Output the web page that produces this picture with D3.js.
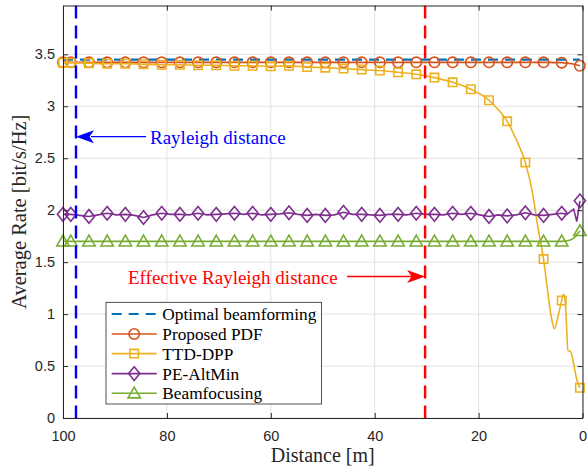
<!DOCTYPE html>
<html><head><meta charset="utf-8">
<script src="https://cdn.jsdelivr.net/npm/d3@7"></script>
<style>
html,body{margin:0;padding:0;background:#fff;}
svg{display:block;}
</style></head>
<body>
<svg id="chart" width="587" height="467"></svg>
<script>
// ---------------- data ----------------
const xTicks = [100, 80, 60, 40, 20, 0];
const yTicks = [0, 0.5, 1, 1.5, 2, 2.5, 3, 3.5];
const xTickLabels = ["100", "80", "60", "40", "20", "0"];
const yTickLabels = ["0", "0.5", "1", "1.5", "2", "2.5", "3", "3.5"];

const seriesNames = ["Optimal beamforming", "Proposed PDF", "TTD-DPP", "PE-AltMin", "Beamfocusing"];

const markerDist = [100, 98.5, 95, 91.5, 88, 84.5, 81, 77.5, 74, 70.5, 67, 63.5, 60, 56.5, 53, 49.5, 46, 42.5, 39, 35.5, 32, 28.5, 25, 21.5, 18, 14.5, 11, 7.5, 4, 0.5];

const optimalDist = [100, 98.5, 95, 91.5, 88, 84.5, 81, 77.5, 74, 70.5, 67, 63.5, 60, 56.5, 53, 49.5, 46, 42.5, 39, 35.5, 32, 28.5, 25, 21.5, 18, 14.5, 11, 7.5, 4, 0.5];
const optimalRate = [3.45, 3.45, 3.45, 3.45, 3.45, 3.45, 3.45, 3.45, 3.45, 3.45, 3.45, 3.45, 3.45, 3.45, 3.45, 3.45, 3.45, 3.45, 3.45, 3.45, 3.45, 3.45, 3.45, 3.45, 3.45, 3.45, 3.45, 3.45, 3.45, 3.45];

const pdfDist = [100, 98.5, 95, 91.5, 88, 84.5, 81, 77.5, 74, 70.5, 67, 63.5, 60, 56.5, 53, 49.5, 46, 42.5, 39, 35.5, 32, 28.5, 25, 21.5, 18, 14.5, 11, 7.5, 4, 2, 0.5];
const pdfRate = [3.423, 3.423, 3.423, 3.423, 3.423, 3.423, 3.423, 3.423, 3.423, 3.423, 3.423, 3.423, 3.423, 3.423, 3.423, 3.423, 3.423, 3.423, 3.423, 3.423, 3.423, 3.423, 3.423, 3.423, 3.423, 3.423, 3.423, 3.423, 3.42, 3.41, 3.39];

const ttdDist = [100, 98.5, 95, 91.5, 88, 84.5, 81, 77.5, 74, 70.5, 67, 63.5, 60, 56.5, 53, 49.5, 46, 42.5, 39, 35.5, 32, 28.5, 25, 21.5, 18, 16.25, 14.5, 12.75, 11, 9.6, 8.6, 7.5, 6.8, 6.0, 5.4, 4.75, 4, 3.65, 3.25, 2.8, 2.3, 1.7, 1.2, 0.5];
const ttdRate = [3.42, 3.42, 3.415, 3.41, 3.41, 3.405, 3.40, 3.40, 3.395, 3.395, 3.39, 3.39, 3.385, 3.389, 3.378, 3.372, 3.363, 3.353, 3.344, 3.327, 3.308, 3.276, 3.231, 3.164, 3.058, 2.97, 2.855, 2.68, 2.46, 2.16, 1.84, 1.53, 1.26, 0.97, 0.86, 0.97, 1.13, 1.19, 1.07, 0.65, 0.64, 0.52, 0.39, 0.29];

const peDist = [100, 98.5, 96.75, 95, 93.25, 91.5, 89.75, 88, 86.25, 84.5, 82.75, 81, 79.25, 77.5, 75.75, 74, 72.25, 70.5, 68.75, 67, 65.25, 63.5, 61.75, 60, 58.25, 56.5, 54.75, 53, 51.25, 49.5, 47.75, 46, 44.25, 42.5, 40.75, 39, 37.25, 35.5, 33.75, 32, 30.25, 28.5, 26.75, 25, 23.25, 21.5, 19.75, 18, 16.25, 14.5, 12.75, 11, 9.25, 7.5, 5.75, 4, 3, 2.2, 1.7, 1.1, 0.5];
const peRate = [1.96, 1.96, 1.95, 1.94, 1.955, 1.97, 1.955, 1.96, 1.95, 1.93, 1.955, 1.97, 1.96, 1.96, 1.955, 1.97, 1.955, 1.96, 1.965, 1.97, 1.96, 1.97, 1.955, 1.96, 1.965, 1.975, 1.96, 1.95, 1.96, 1.95, 1.955, 1.98, 1.96, 1.96, 1.955, 1.95, 1.96, 1.96, 1.955, 1.97, 1.96, 1.96, 1.955, 1.97, 1.96, 1.97, 1.955, 1.94, 1.955, 1.945, 1.955, 1.975, 1.955, 1.95, 1.96, 1.97, 1.96, 1.99, 2.01, 1.89, 2.09];

const beamDist = [100, 98.5, 95, 91.5, 88, 84.5, 81, 77.5, 74, 70.5, 67, 63.5, 60, 56.5, 53, 49.5, 46, 42.5, 39, 35.5, 32, 28.5, 25, 21.5, 18, 14.5, 11, 7.5, 4, 2.5, 1.5, 1.0, 0.5];
const beamRate = [1.70, 1.70, 1.70, 1.70, 1.70, 1.70, 1.70, 1.70, 1.70, 1.70, 1.70, 1.70, 1.70, 1.70, 1.70, 1.70, 1.70, 1.70, 1.70, 1.70, 1.70, 1.70, 1.70, 1.70, 1.70, 1.70, 1.70, 1.70, 1.70, 1.71, 1.74, 1.77, 1.80];

const rayleighDist = 97.5;
const effRayleighDist = 30.3;
const annotations = ["Rayleigh distance", "Effective Rayleigh distance"];
const xLabel = "Distance [m]";
const yLabel = "Average Rate [bit/s/Hz]";

// ---------------- drawing ----------------
const svg = d3.select("#chart");
const L = 63, R = 582.5, T = 5.5, B = 418;
const x = d3.scaleLinear().domain([100, 0]).range([L, R]);
const y = d3.scaleLinear().domain([0, 3.97]).range([B, T]);
const axisColor = "#262626";
const colors = ["#0072BD", "#D95319", "#EDB120", "#7E2F8E", "#77AC30"];

svg.append("rect").attr("x", L).attr("y", T).attr("width", R - L).attr("height", B - T).attr("fill", "#fff");

// grid
const grid = svg.append("g");
grid.selectAll(".gx").data(xTicks).enter().append("line")
  .attr("x1", d => x(d)).attr("x2", d => x(d)).attr("y1", T).attr("y2", B)
  .attr("stroke", "#e2e2e2").attr("stroke-width", 1);
grid.selectAll(".gy").data(yTicks).enter().append("line")
  .attr("x1", L).attr("x2", R).attr("y1", d => y(d)).attr("y2", d => y(d))
  .attr("stroke", "#e2e2e2").attr("stroke-width", 1);

// markers
function markerPath(type) {
  if (type === "circle") return d3.symbol(d3.symbolCircle, Math.PI * 5.2 * 5.2)();
  if (type === "square") return "M-4.2,-4.2H4.2V4.2H-4.2Z";
  if (type === "diamond") return "M0,-6.8L5.6,0L0,6.8L-5.6,0Z";
  if (type === "triangle") return "M0,-6.2L6.2,4.6L-6.2,4.6Z";
  return null;
}

const series = [
  {name: seriesNames[0], dist: optimalDist, rate: optimalRate, color: colors[0], marker: null, dash: "10,7", width: 2.2, curve: d3.curveLinear},
  {name: seriesNames[1], dist: pdfDist, rate: pdfRate, color: colors[1], marker: "circle", dash: null, width: 1.6, curve: d3.curveLinear},
  {name: seriesNames[2], dist: ttdDist, rate: ttdRate, color: colors[2], marker: "square", dash: null, width: 1.6, curve: d3.curveMonotoneX},
  {name: seriesNames[3], dist: peDist, rate: peRate, color: colors[3], marker: "diamond", dash: null, width: 1.6, curve: d3.curveLinear},
  {name: seriesNames[4], dist: beamDist, rate: beamRate, color: colors[4], marker: "triangle", dash: null, width: 1.6, curve: d3.curveMonotoneX}
];

const plotG = svg.append("g");
series.forEach(s => {
  const pts = s.dist.map((d, i) => [d, s.rate[i]]);
  const line = d3.line().x(d => x(d[0])).y(d => y(d[1])).curve(s.curve);
  plotG.append("path").attr("d", line(pts)).attr("fill", "none")
    .attr("stroke", s.color).attr("stroke-width", s.width)
    .attr("stroke-dasharray", s.dash);
  if (s.marker) {
    const mp = pts.filter(p => markerDist.includes(p[0]));
    plotG.selectAll(null).data(mp).enter().append("path")
      .attr("d", markerPath(s.marker))
      .attr("transform", d => `translate(${x(d[0])},${y(d[1])})`)
      .attr("fill", "none").attr("stroke", s.color).attr("stroke-width", 1.6);
  }
});

// vertical reference lines
svg.append("line").attr("x1", x(rayleighDist)).attr("x2", x(rayleighDist)).attr("y1", T).attr("y2", B)
  .attr("stroke", "#0000FF").attr("stroke-width", 2.4).attr("stroke-dasharray", "13,7");
svg.append("line").attr("x1", x(effRayleighDist)).attr("x2", x(effRayleighDist)).attr("y1", T).attr("y2", B)
  .attr("stroke", "#FF0000").attr("stroke-width", 2.4).attr("stroke-dasharray", "13,7");

// axes
const xAxisB = d3.axisBottom(x).tickValues(xTicks).tickFormat((d, i) => xTickLabels[i]).tickSizeInner(-5).tickSizeOuter(0).tickPadding(13);
const xAxisT = d3.axisTop(x).tickValues(xTicks).tickFormat("").tickSizeInner(-5).tickSizeOuter(0);
const yAxisL = d3.axisLeft(y).tickValues(yTicks).tickFormat((d, i) => yTickLabels[i]).tickSizeInner(-5).tickSizeOuter(0).tickPadding(8);
const yAxisR = d3.axisRight(y).tickValues(yTicks).tickFormat("").tickSizeInner(-5).tickSizeOuter(0);

function styleAxis(g) {
  g.select(".domain").attr("stroke", axisColor).attr("stroke-width", 1);
  g.selectAll(".tick line").attr("stroke", axisColor).attr("stroke-width", 1);
  g.selectAll(".tick text").attr("fill", axisColor).style("font-family", "'Liberation Sans', Arial, sans-serif").style("font-size", "14.5px");
}
svg.append("g").attr("transform", `translate(0,${B})`).call(xAxisB).call(styleAxis);
svg.append("g").attr("transform", `translate(0,${T})`).call(xAxisT).call(styleAxis);
svg.append("g").attr("transform", `translate(${L},0)`).call(yAxisL).call(styleAxis);
svg.append("g").attr("transform", `translate(${R},0)`).call(yAxisR).call(styleAxis);

// axis labels
const serif = "'Liberation Serif', 'Times New Roman', serif";
svg.append("text").attr("x", (L + R) / 2).attr("y", 462).attr("text-anchor", "middle")
  .style("font-family", serif).style("font-size", "20px").attr("fill", axisColor).text(xLabel);
svg.append("text").attr("transform", `translate(25.5,${(T + B) / 2}) rotate(-90)`).attr("text-anchor", "middle")
  .style("font-family", serif).style("font-size", "20.5px").attr("fill", axisColor).text(yLabel);

// annotations
const ay1 = 136.7;
svg.append("line").attr("x1", 91).attr("x2", 146).attr("y1", ay1).attr("y2", ay1).attr("stroke", "#0000FF").attr("stroke-width", 1.3);
svg.append("path").attr("d", `M${x(rayleighDist)},${ay1} L${x(rayleighDist) + 18},${ay1 - 6.5} L${x(rayleighDist) + 13.5},${ay1} L${x(rayleighDist) + 18},${ay1 + 6.5} Z`).attr("fill", "#0000FF");
svg.append("text").attr("x", 150).attr("y", 143.5).style("font-family", serif).style("font-size", "19px").attr("fill", "#0000FF").text(annotations[0]);

const ay2 = 276.5;
svg.append("line").attr("x1", 347).attr("x2", x(effRayleighDist) - 12).attr("y1", ay2).attr("y2", ay2).attr("stroke", "#FF0000").attr("stroke-width", 1.3);
svg.append("path").attr("d", `M${x(effRayleighDist)},${ay2} L${x(effRayleighDist) - 18},${ay2 - 6.5} L${x(effRayleighDist) - 13.5},${ay2} L${x(effRayleighDist) - 18},${ay2 + 6.5} Z`).attr("fill", "#FF0000");
svg.append("text").attr("x", 128).attr("y", 284).style("font-family", serif).style("font-size", "19px").attr("fill", "#FF0000").text(annotations[1]);

// legend
const lg = svg.append("g");
lg.append("rect").attr("x", 106).attr("y", 302.3).attr("width", 215.5).attr("height", 101.7)
  .attr("fill", "#fff").attr("stroke", axisColor).attr("stroke-width", 0.8);
const rowY = [314, 334, 353.6, 373.6, 393.3];
series.forEach((s, i) => {
  const ry = rowY[i];
  lg.append("line").attr("x1", 111.7).attr("x2", 156.7).attr("y1", ry).attr("y2", ry)
    .attr("stroke", s.color).attr("stroke-width", s.width).attr("stroke-dasharray", s.dash);
  if (s.marker) {
    lg.append("path").attr("d", markerPath(s.marker)).attr("transform", `translate(134.2,${ry})`)
      .attr("fill", "none").attr("stroke", s.color).attr("stroke-width", 1.6);
  }
  lg.append("text").attr("x", 162.3).attr("y", ry + 6).style("font-family", serif).style("font-size", "17.3px")
    .attr("fill", "#000").text(s.name);
});
</script>
</body></html>
